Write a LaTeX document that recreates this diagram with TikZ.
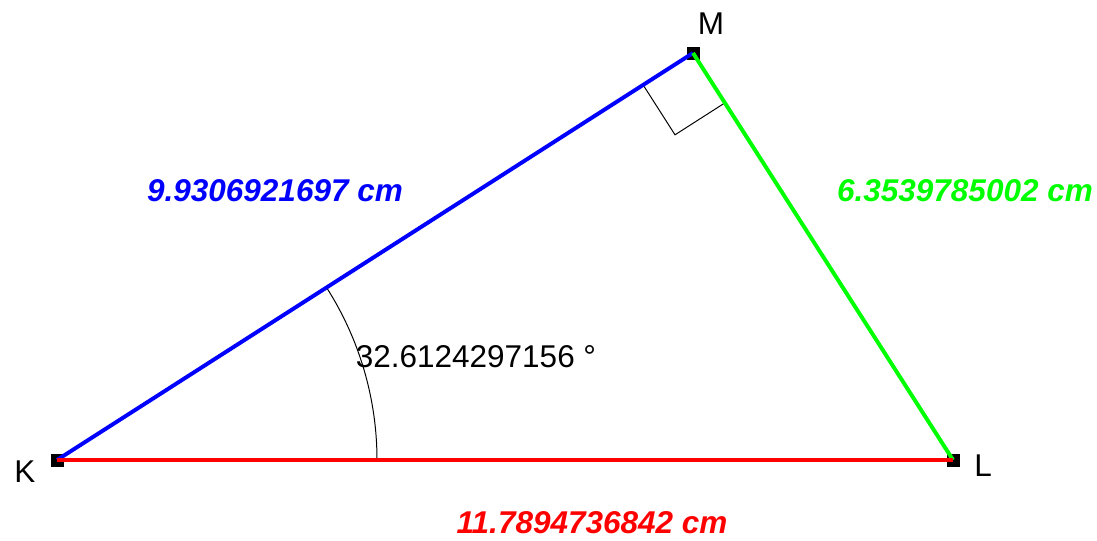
\documentclass[tikz,border=0pt]{standalone}
\usepackage{fontspec}
\setmainfont{Liberation Sans}
\usepackage{tikz}
\usetikzlibrary{calc}
\definecolor{sideblue}{RGB}{0,0,255}
\definecolor{sidegreen}{RGB}{0,255,0}
\definecolor{sidered}{RGB}{255,0,0}
\begin{document}
\begin{tikzpicture}[x=0.025cm, y=0.025cm, every node/.style={font=\fontsize{22.4}{26}\selectfont}, vert/.style={draw=black, fill=black, inner sep=0pt, minimum size=0.3cm}, side/.style={line width=2.8pt}, len/.style={font=\fontsize{22.4}{26}\selectfont\bfseries\itshape, inner sep=1pt}]
\useasboundingbox (0,0) rectangle (1097,540);
\node[vert] (K) at (57,80) {};
\node[vert] (L) at (953,80) {};
\node[vert] (M) at (693,487) {};
\node (kl) at (25,68) {K};
\node (ll) at (983,74) {L};
\node (ml) at (711,516) {M};
% right angle at M
\coordinate (ra1) at ($(M.center)!1.48cm!(K.center)$);
\coordinate (ra2) at ($(M.center)!1.48cm!(L.center)$);
\draw[line width=0.7pt] (ra1) -- ($(ra1)+(ra2)-(M.center)$) -- (ra2);
% angle at K
\draw[line width=0.7pt] ($(K.center)+(320,0)$) arc[start angle=0, end angle=32.61, radius=8cm];
\node (ang) at (476,183) {32.6124297156 °};
\draw[side, sideblue] (K.center) -- (M.center);
\draw[side, sidegreen] (M.center) -- (L.center);
\draw[side, sidered] (K.center) -- (L.center);
\node[len, text=sideblue] (kmlen) at (275,349) {9.9306921697 cm};
\node[len, text=sidegreen] (mllen) at (965,349) {6.3539785002 cm};
\node[len, text=sidered] (kllen) at (592,17) {11.7894736842 cm};
\end{tikzpicture}
\end{document}
